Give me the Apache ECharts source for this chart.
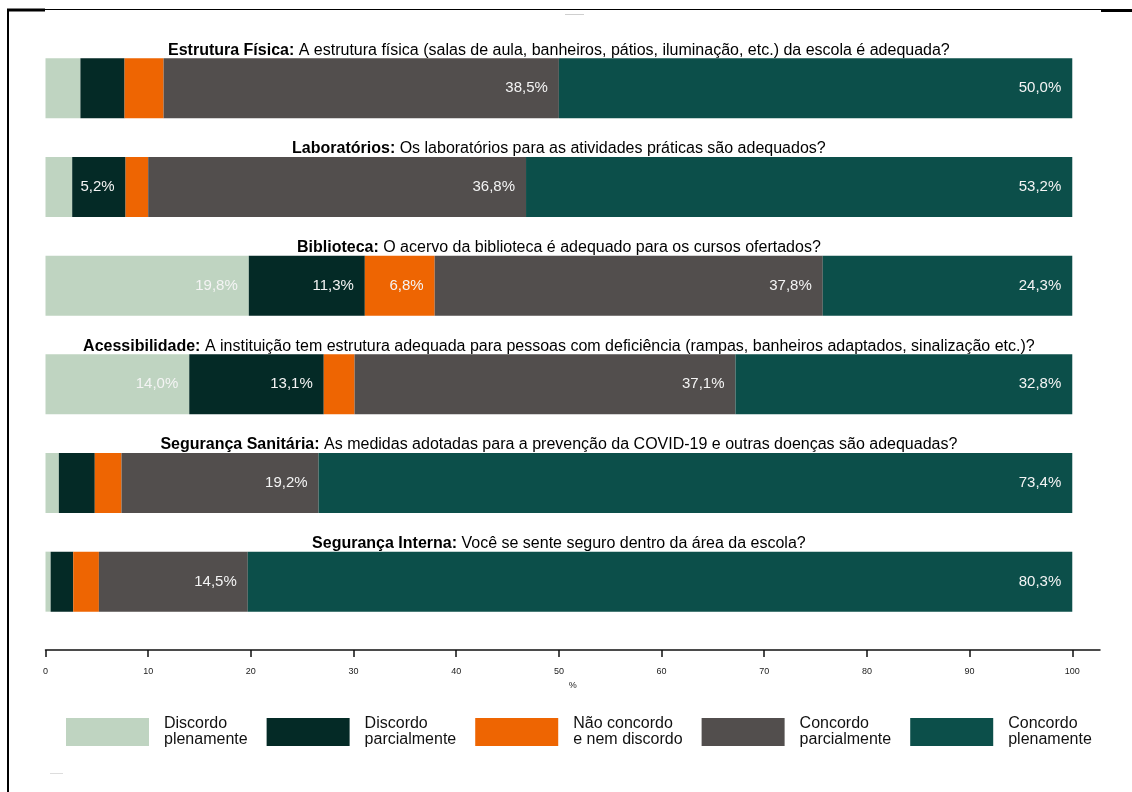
<!DOCTYPE html>
<html>
<head>
<meta charset="utf-8">
<script src="https://cdn.jsdelivr.net/npm/echarts@6/dist/echarts.min.js"></script>
<style>
html,body{margin:0;padding:0;background:#fff;}
#chart{width:1132px;height:792px;}
</style>
</head>
<body>
<div id="chart"></div>
<script>
var categories = ['Estrutura Física', 'Laboratórios', 'Biblioteca', 'Acessibilidade', 'Segurança Sanitária', 'Segurança Interna'];
var questions = [
  'A estrutura física (salas de aula, banheiros, pátios, iluminação, etc.) da escola é adequada?',
  'Os laboratórios para as atividades práticas são adequados?',
  'O acervo da biblioteca é adequado para os cursos ofertados?',
  'A instituição tem estrutura adequada para pessoas com deficiência (rampas, banheiros adaptados, sinalização etc.)?',
  'As medidas adotadas para a prevenção da COVID-19 e outras doenças são adequadas?',
  'Você se sente seguro dentro da área da escola?'
];
var seriesNames = ['Discordo\nplenamente', 'Discordo\nparcialmente', 'Não concordo\ne nem discordo', 'Concordo\nparcialmente', 'Concordo\nplenamente'];
var discordoPlenamente   = [3.4, 2.6, 19.8, 14.0, 1.3, 0.5];
var discordoParcialmente = [4.3, 5.2, 11.3, 13.1, 3.5, 2.2];
var neutro               = [3.8, 2.2, 6.8, 3.0, 2.6, 2.5];
var concordoParcialmente = [38.5, 36.8, 37.8, 37.1, 19.2, 14.5];
var concordoPlenamente   = [50.0, 53.2, 24.3, 32.8, 73.4, 80.3];
var totals = [100, 100, 100, 100, 100, 100];
var xTicks = [0, 10, 20, 30, 40, 50, 60, 70, 80, 90, 100];

var colors = ['#bfd4c1', '#042a26', '#ee6502', '#524e4d', '#0c4f4a'];
var values = [discordoPlenamente, discordoParcialmente, neutro, concordoParcialmente, concordoPlenamente];
var FONT = '"Liberation Sans", Arial, sans-serif';

var chart = echarts.init(document.getElementById('chart'));

var series = [];
values.forEach(function (vals, i) {
  series.push({
    name: seriesNames[i],
    type: 'bar',
    stack: 'total',
    barWidth: 60,
    barGap: '-100%',
    data: vals,
    itemStyle: { color: colors[i] },
    silent: true,
    label: {
      show: true,
      position: 'insideRight',
      distance: 11,
      color: '#f4f4f4',
      fontFamily: FONT,
      fontSize: 15,
      formatter: function (p) {
        return p.value >= 5 ? p.value.toFixed(1).replace('.', ',') + '%' : '';
      }
    }
  });
});
// transparent overlay carrying the question titles above each bar
series.push({
  name: 'titles',
  type: 'bar',
  barWidth: 60,
  barGap: '-100%',
  data: totals,
  z: 1,
  silent: true,
  itemStyle: { color: 'rgba(0,0,0,0)' },
  label: {
    show: true,
    position: 'top',
    distance: 0,
    color: '#000',
    fontFamily: FONT,
    fontSize: 16,
    lineHeight: 16,
    formatter: function (p) {
      return '{b|' + categories[p.dataIndex] + ':} ' + questions[p.dataIndex];
    },
    rich: {
      b: { fontWeight: 'bold', fontFamily: FONT, fontSize: 16, lineHeight: 16, color: '#000' }
    }
  }
});

chart.setOption({
  animation: false,
  backgroundColor: '#fff',
  grid: { left: 45.5, right: 32, top: 39, height: 592, containLabel: false },
  xAxis: {
    type: 'value',
    min: 0,
    max: 102.7,
    offset: 19,
    name: '%',
    nameLocation: 'middle',
    nameGap: 31,
    nameTextStyle: { fontFamily: FONT, fontSize: 9, color: '#222' },
    axisLine: { show: true, lineStyle: { color: '#111', width: 1.5 } },
    axisTick: { show: true, customValues: xTicks, length: 7, lineStyle: { color: '#111', width: 1.5 } },
    axisLabel: { customValues: xTicks, fontFamily: FONT, fontSize: 9, color: '#222', margin: 17 },
    splitLine: { show: false }
  },
  yAxis: {
    type: 'category',
    inverse: true,
    data: categories,
    show: false
  },
  legend: {
    data: seriesNames,
    left: 66,
    top: 713,
    padding: 0,
    icon: 'rect',
    itemWidth: 83,
    itemHeight: 28,
    itemGap: 19,
    selectedMode: false,
    textStyle: { fontFamily: FONT, fontSize: 16, lineHeight: 16, color: '#111', padding: [6, 0, 0, 10] }
  },
  series: series,
  graphic: [
    { type: 'line', shape: { x1: 8, y1: 9, x2: 8, y2: 792 }, style: { stroke: '#000', lineWidth: 2 }, silent: true },
    { type: 'line', shape: { x1: 8, y1: 9.5, x2: 1132, y2: 9.5 }, style: { stroke: '#000', lineWidth: 1 }, silent: true },
    { type: 'line', shape: { x1: 7, y1: 10, x2: 45, y2: 10 }, style: { stroke: '#000', lineWidth: 3 }, silent: true },
    { type: 'line', shape: { x1: 1101, y1: 10.5, x2: 1132, y2: 10.5 }, style: { stroke: '#000', lineWidth: 3 }, silent: true },
    { type: 'line', shape: { x1: 565, y1: 14.5, x2: 584, y2: 14.5 }, style: { stroke: '#cfcfcf', lineWidth: 1 }, silent: true },
    { type: 'line', shape: { x1: 50, y1: 773.5, x2: 63, y2: 773.5 }, style: { stroke: '#dddddd', lineWidth: 1 }, silent: true }
  ]
});
</script>
</body>
</html>
